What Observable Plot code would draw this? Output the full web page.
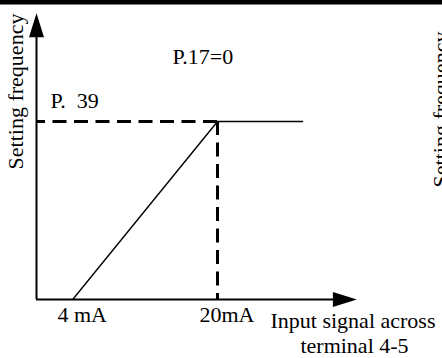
<!DOCTYPE html>
<html><head><meta charset="utf-8">
<script src="https://cdn.jsdelivr.net/npm/d3@7"></script>
<script src="https://cdn.jsdelivr.net/npm/@observablehq/plot@0.6"></script>
<style>
html,body{margin:0;padding:0;background:#fff;overflow:hidden;}
svg{display:block;}
</style></head><body><div id="chart"></div>
<script>
// Characteristic: input current (mA) vs setting frequency (relative to P.39 level)
const inputMA = [4, 20, 29.4];
const freqLevel = [0, 1, 1];
const p39Level = 1;
const fullScaleMA = 20;
const axisEndMA = 35.4;
const axisEndFreq = 1.608;
const tickMA = [4, 20];
const tickLabels = ["4 mA", "20mA"];
const yAxisLabel = "Setting frequency";
const xAxisLabel1 = "Input signal across";
const xAxisLabel2 = "terminal 4-5";
const titleLabel = "P.17=0";
const p39Label = "P.\u00a0 39";

const curve = inputMA.map((x, i) => ({x, y: freqLevel[i]}));
const ticks = tickMA.map((x, i) => ({x, y: 0, label: tickLabels[i]}));

// filled arrowhead symbol (tip at origin, pointing up)
const arrowHead = {
  draw(ctx) {
    ctx.moveTo(0, 0);
    ctx.lineTo(-7.5, 24);
    ctx.lineTo(7.5, 24);
    ctx.closePath();
  }
};

const font = "Liberation Serif, Times New Roman, serif";
const fs = 22;

const chart = Plot.plot({
  width: 442,
  height: 358,
  marginTop: 0, marginRight: 0, marginBottom: 0, marginLeft: 0,
  style: {fontFamily: font, fontSize: fs + "px", background: "#fff", color: "#000"},
  x: {domain: [0, fullScaleMA], range: [36, 217], axis: null},
  y: {domain: [0, p39Level], range: [299, 121], axis: null},
  marks: [
    Plot.frame({anchor: "top", stroke: "#000", strokeWidth: 8}),
    // axes
    Plot.ruleY([0], {x1: 0, x2: axisEndMA - 1, stroke: "#000", strokeWidth: 2}),
    Plot.ruleX([0], {y1: 0, y2: axisEndFreq - 0.05, stroke: "#000", strokeWidth: 2}),
    Plot.dot([{x: axisEndMA, y: 0}], {x: "x", y: "y", symbol: arrowHead, rotate: 90, fill: "#000", stroke: "none"}),
    Plot.dot([{x: 0, y: axisEndFreq}], {x: "x", y: "y", symbol: arrowHead, rotate: 0, fill: "#000", stroke: "none"}),
    // dashed guides
    Plot.ruleY([p39Level], {x1: fullScaleMA, x2: 0, stroke: "#000", strokeWidth: 3, strokeDasharray: "14,7.5"}),
    Plot.ruleX([fullScaleMA], {y1: p39Level, y2: 0, stroke: "#000", strokeWidth: 3, strokeDasharray: "14,7.5"}),
    // characteristic
    Plot.line(curve, {x: "x", y: "y", stroke: "#000", strokeWidth: 1.4}),
    // tick labels
    Plot.text(ticks, {x: "x", y: "y", text: "label", textAnchor: "middle", lineAnchor: "bottom", dx: 9.5, dy: 22, fontSize: fs}),
    Plot.text([p39Label], {x: () => 0, y: () => p39Level, text: (d) => d, textAnchor: "start", lineAnchor: "bottom", dx: 14, dy: -14, fontSize: fs}),
    Plot.text([titleLabel], {frameAnchor: "top-left", text: (d) => d, textAnchor: "start", lineAnchor: "bottom", dx: 172, dy: 63, fontSize: fs}),
    Plot.text([xAxisLabel1], {frameAnchor: "top-left", text: (d) => d, textAnchor: "start", lineAnchor: "bottom", dx: 270, dy: 327, fontSize: fs}),
    Plot.text([xAxisLabel2], {frameAnchor: "top-left", text: (d) => d, textAnchor: "middle", lineAnchor: "bottom", dx: 354, dy: 352.7, fontSize: fs}),
    Plot.text([yAxisLabel], {frameAnchor: "top-left", text: (d) => d, textAnchor: "middle", lineAnchor: "bottom", rotate: -90, dx: 22, dy: 91, fontSize: fs}),
    Plot.text([yAxisLabel], {frameAnchor: "top-left", text: (d) => d, textAnchor: "middle", lineAnchor: "bottom", rotate: -90, dx: 447, dy: 109, fontSize: fs})
  ]
});
document.getElementById("chart").appendChild(chart);
</script>
</body></html>
